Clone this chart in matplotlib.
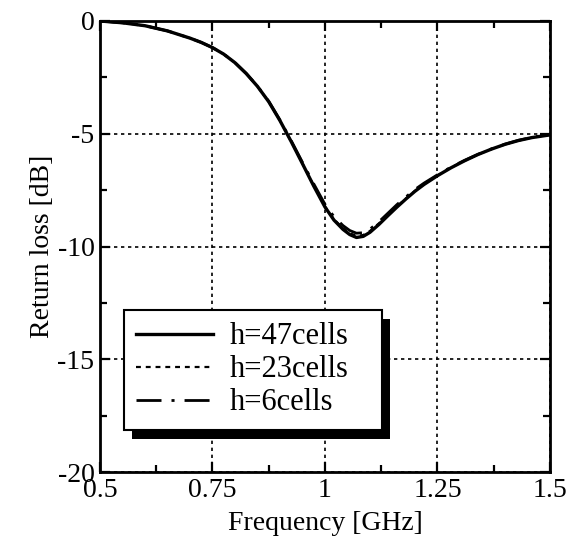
import matplotlib as mpl
mpl.use('Agg')
import matplotlib.pyplot as plt
from matplotlib.patches import Rectangle
from matplotlib.ticker import MultipleLocator

plt.rcParams['font.family'] = ['Liberation Serif', 'DejaVu Serif']

freq = [0.50, 0.55, 0.60, 0.65, 0.70, 0.725, 0.75, 0.775, 0.80, 0.825, 0.85, 0.875,
        0.90, 0.925, 0.95, 0.975, 1.00, 1.02, 1.04, 1.055, 1.07, 1.085, 1.10, 1.12,
        1.14, 1.16, 1.18, 1.20, 1.22, 1.25, 1.28, 1.31, 1.34, 1.37, 1.40, 1.43,
        1.46, 1.50]

h47 = [0.00, -0.08, -0.21, -0.44, -0.76, -0.95, -1.18, -1.47, -1.85, -2.33, -2.90, -3.58,
       -4.42, -5.35, -6.33, -7.32, -8.25, -8.83, -9.24, -9.47, -9.60, -9.55, -9.37, -9.02,
       -8.63, -8.25, -7.89, -7.55, -7.25, -6.86, -6.51, -6.20, -5.92, -5.68, -5.47, -5.30,
       -5.17, -5.05]

h23 = [0.00, -0.08, -0.21, -0.44, -0.76, -0.95, -1.18, -1.47, -1.85, -2.33, -2.90, -3.58,
       -4.42, -5.35, -6.32, -7.30, -8.22, -8.79, -9.19, -9.41, -9.53, -9.49, -9.31, -8.97,
       -8.59, -8.22, -7.87, -7.53, -7.24, -6.85, -6.50, -6.20, -5.92, -5.68, -5.47, -5.30,
       -5.17, -5.05]

h6 = [0.00, -0.08, -0.21, -0.44, -0.76, -0.95, -1.18, -1.47, -1.85, -2.33, -2.89, -3.56,
      -4.39, -5.31, -6.27, -7.22, -8.13, -8.68, -9.07, -9.29, -9.41, -9.39, -9.23, -8.90,
      -8.52, -8.14, -7.80, -7.47, -7.19, -6.82, -6.48, -6.18, -5.91, -5.67, -5.46, -5.29,
      -5.16, -5.04]

labels = ['h=47cells', 'h=23cells', 'h=6cells']
xticks = [0.5, 0.75, 1.0, 1.25, 1.5]
xticklabels = ['0.5', '0.75', '1', '1.25', '1.5']
yticks = [0, -5, -10, -15, -20]

fig = plt.figure(figsize=(5.7, 5.41), dpi=100)
ax = fig.add_axes([0.1754, 0.1275, 0.7895, 0.8337])

ax.plot(freq, h47, color='k', lw=2.4, ls='-', label=labels[0])
ax.plot(freq, h23, color='k', lw=1.6, ls=(0, (2.2, 2.2)), label=labels[1])
ax.plot(freq, h6, color='k', lw=2.0, ls=(0, (9, 3.6, 1.1, 3.6)), label=labels[2])

ax.set_xlim(0.5, 1.5)
ax.set_ylim(-20, 0)
ax.set_xticks(xticks, xticklabels)
ax.set_yticks(yticks, [str(v) for v in yticks])
ax.xaxis.set_minor_locator(MultipleLocator(0.125))
ax.yaxis.set_minor_locator(MultipleLocator(2.5))

ax.tick_params(which='both', direction='in', top=True, right=True, width=1.6,
               labelsize=20, pad=4)
ax.tick_params(which='major', length=7)
ax.tick_params(which='minor', length=5)
for s in ax.spines.values():
    s.set_linewidth(2)

ax.grid(True, which='major', color='k', ls=(0, (2, 2.2)), lw=1.2)

ax.set_xlabel('Frequency [GHz]', fontsize=20, labelpad=6)
ax.set_ylabel('Return loss [dB]', fontsize=20, labelpad=2)

# legend box: left 124px, top 310px, right 382px
leg = ax.legend(loc='upper left', bbox_to_anchor=(0.0533, 0.3592, 0.5733, 0),
                mode='expand', borderaxespad=0, fancybox=False, framealpha=1,
                edgecolor='k', fontsize=22, handlelength=2.52, handletextpad=0.55,
                labelspacing=0.135, borderpad=0.4)
leg.get_frame().set_linewidth(1.5)
leg.set_zorder(6)

# solid black drop shadow
fig.canvas.draw()
bb = leg.get_window_extent()
inv = ax.transAxes.inverted()
(x0, y0), (x1, y1) = inv.transform([[bb.x0 + 8, bb.y0 - 9], [bb.x1 + 8, bb.y1 - 9]])
ax.add_patch(Rectangle((x0, y0), x1 - x0, y1 - y0, transform=ax.transAxes,
                       facecolor='k', edgecolor='none', zorder=5.5, clip_on=False))

fig.savefig('out.png', dpi=100)
